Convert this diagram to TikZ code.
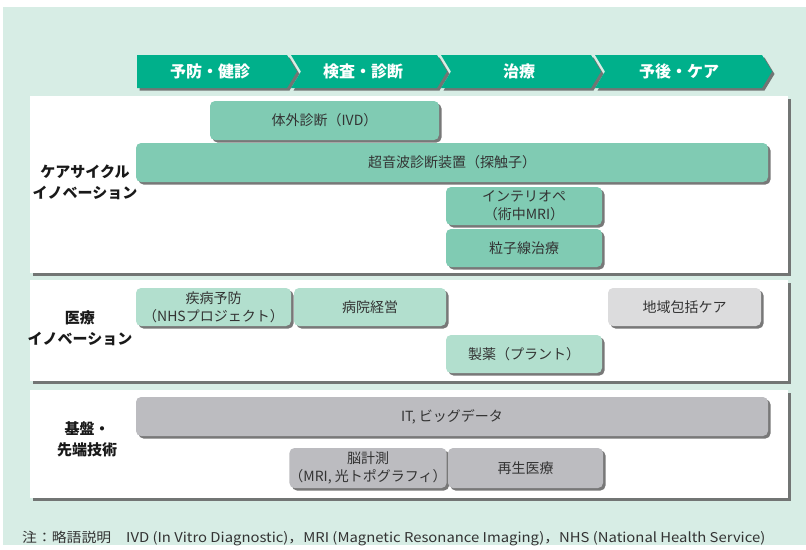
\documentclass[tikz,border=0pt]{standalone}
\usepackage{fontspec}
\setmainfont{Noto Sans CJK JP}
\usetikzlibrary{shadows}
\definecolor{bgc}{HTML}{D7EDE5}
\definecolor{arrowc}{HTML}{00B08B}
\definecolor{boxg}{HTML}{80CBB3}
\definecolor{boxlg}{HTML}{B2DFCE}
\definecolor{boxgray}{HTML}{DCDCDD}
\definecolor{boxdgray}{HTML}{BCBCC0}
\definecolor{txt}{HTML}{333333}
\tikzset{
  shad/.style={drop shadow={shadow xshift=2.5pt,shadow yshift=-2.5pt,fill=black!62,opacity=0.85}},
  panel/.style={fill=white,shad},
  seg/.style={fill=arrowc,shad},
  segtext/.style={text=white,font=\fontsize{16}{18}\selectfont\bfseries},
  item/.style={rounded corners=5pt,shad,inner sep=0pt,text=txt,align=center,
    font=\fontsize{14}{18}\selectfont},
  grn/.style={item,fill=boxg},
  lgrn/.style={item,fill=boxlg},
  gry/.style={item,fill=boxgray},
  dgry/.style={item,fill=boxdgray},
  rowlabel/.style={align=center,text=black!90,font=\fontsize{15}{21}\selectfont\bfseries},
}
\begin{document}
\begin{tikzpicture}[x=1pt,y=-1pt]
\useasboundingbox (0,0) rectangle (806,549);
\fill[bgc] (3,7) rectangle (806,545);
% process chevrons
\fill[seg] (137,55)--(287,55)--(297,71.5)--(287,88)--(137,88)--cycle;
\fill[seg] (291,55)--(437,55)--(447,71.5)--(437,88)--(291,88)--(301,71.5)--cycle;
\fill[seg] (441,55)--(591,55)--(601,71.5)--(591,88)--(441,88)--(451,71.5)--cycle;
\fill[seg] (595,55)--(762,55)--(772,71.5)--(762,88)--(595,88)--(605,71.5)--cycle;
\node[segtext] (h1) at (210,71.5) {予防・健診};
\node[segtext] (h2) at (363,71.5) {検査・診断};
\node[segtext] (h3) at (519,71.5) {治療};
\node[segtext] (h4) at (679,71.5) {予後・ケア};
% panels
\fill[panel] (30,96) rectangle (788,273);
\fill[panel] (30,280) rectangle (788,381);
\fill[panel] (30,390) rectangle (788,498);
% row labels
\node[rowlabel] (l1) at (85,182.5) {ケアサイクル\\イノベーション};
\node[rowlabel] (l2) at (80,328) {医療\\イノベーション};
\node[rowlabel] (l3) at (87,439) {基盤・\\先端技術};
% items
\node[grn,minimum width=229pt,minimum height=39pt] (ivd) at (324.5,120.5) {体外診断（IVD）};
\node[grn,minimum width=632pt,minimum height=39pt] (us) at (452,162.5) {超音波診断装置（探触子）};
\node[grn,minimum width=156pt,minimum height=38pt] (intra) at (524,206) {インテリオペ\\（術中MRI）};
\node[grn,minimum width=156pt,minimum height=38pt] (ryushi) at (524,248) {粒子線治療};
\node[lgrn,minimum width=155pt,minimum height=38pt] (shippei) at (213.5,307) {疾病予防\\（NHSプロジェクト）};
\node[lgrn,minimum width=152pt,minimum height=38pt] (byoin) at (370,307) {病院経営};
\node[gry,minimum width=153pt,minimum height=38pt] (chiiki) at (684.5,307) {地域包括ケア};
\node[lgrn,minimum width=156pt,minimum height=38pt] (seiyaku) at (524,354) {製薬（プラント）};
\node[dgry,minimum width=632pt,minimum height=39pt] (it) at (452,416.5) {IT, ビッグデータ};
\node[dgry,minimum width=154pt,minimum height=40pt] (brain) at (368,468) {脳計測\\（MRI, 光トポグラフィ）};
\node[dgry,minimum width=155pt,minimum height=40pt] (saisei) at (525.5,468) {再生医療};
% footnote
\node[anchor=west,text=txt,inner sep=0pt] (note) at (22,538) {\scalebox{1.1}[1]{\fontsize{13.5}{15}\selectfont 注：略語説明　IVD (In Vitro Diagnostic)，MRI (Magnetic Resonance Imaging)，NHS (National Health Service)}};
\end{tikzpicture}
\end{document}
